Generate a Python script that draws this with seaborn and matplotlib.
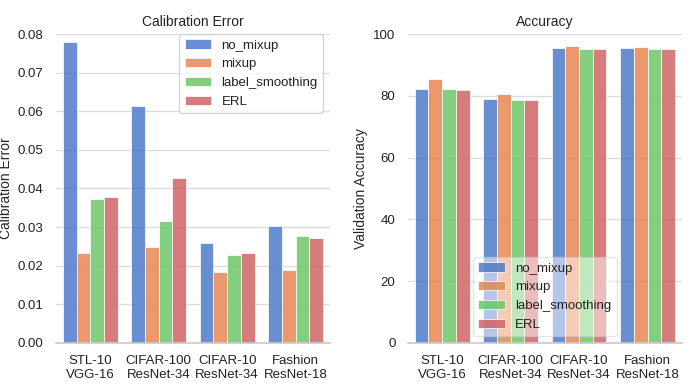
import pandas as pd
import matplotlib.pyplot as plt
import seaborn as sns

# data
datasets = ['STL-10\nVGG-16', 'CIFAR-100\nResNet-34', 'CIFAR-10\nResNet-34', 'Fashion\nResNet-18']
methods = ['no_mixup', 'mixup', 'label_smoothing', 'ERL']

calib_no_mixup = [0.0780, 0.0614, 0.0259, 0.0303]
calib_mixup = [0.0233, 0.0249, 0.0184, 0.0189]
calib_label_smoothing = [0.0372, 0.0316, 0.0228, 0.0278]
calib_erl = [0.0379, 0.0427, 0.0234, 0.0271]

acc_no_mixup = [82.2, 79.0, 95.6, 95.6]
acc_mixup = [85.5, 80.6, 96.0, 95.8]
acc_label_smoothing = [82.3, 78.6, 95.2, 95.2]
acc_erl = [81.9, 78.8, 95.2, 95.2]


def long_frame(series):
    rows = []
    for m, vals in zip(methods, series):
        for d, v in zip(datasets, vals):
            rows.append({'dataset': d, 'method': m, 'value': v})
    return pd.DataFrame(rows)


df_cal = long_frame([calib_no_mixup, calib_mixup, calib_label_smoothing, calib_erl])
df_acc = long_frame([acc_no_mixup, acc_mixup, acc_label_smoothing, acc_erl])

sns.set_theme(style='whitegrid', palette='muted')
plt.rcParams['font.family'] = ['Liberation Sans', 'DejaVu Sans']
plt.rcParams['text.color'] = '#222222'
plt.rcParams['xtick.color'] = '#222222'
plt.rcParams['ytick.color'] = '#222222'

fig, axes = plt.subplots(1, 2, figsize=(7, 3.87), dpi=100)
fig.subplots_adjust(left=0.08, right=0.974, bottom=0.114, top=0.912, wspace=0.285)

bar_kw = dict(x='dataset', y='value', hue='method', saturation=0.9,
              alpha=0.85, edgecolor='white', linewidth=0.6)

# --- left: calibration error ---
ax = axes[0]
sns.barplot(data=df_cal, ax=ax, **bar_kw)
ax.set_ylim(0, 0.08)
ax.set_yticks([0, 0.01, 0.02, 0.03, 0.04, 0.05, 0.06, 0.07, 0.08])
ax.set_yticklabels(['0.00', '0.01', '0.02', '0.03', '0.04', '0.05', '0.06', '0.07', '0.08'])
ax.set_title('Calibration Error', fontsize=10)
ax.set_ylabel('Calibration Error', fontsize=10, labelpad=3)
ax.set_xlabel('')
ax.legend(title=None, loc='upper right', bbox_to_anchor=(0.975, 1.0),
          fontsize=9.5, frameon=True, borderaxespad=0)

# --- right: accuracy ---
ax = axes[1]
sns.barplot(data=df_acc, ax=ax, **bar_kw)
ax.set_ylim(0, 100)
ax.set_yticks([0, 20, 40, 60, 80, 100])
ax.set_title('Accuracy', fontsize=10)
ax.set_ylabel('Validation Accuracy', fontsize=10, labelpad=4)
ax.set_xlabel('')
ax.legend(title=None, loc='lower center', fontsize=9.5, frameon=True,
          framealpha=0.5, borderaxespad=0.5)

for ax in axes:
    ax.grid(axis='x', visible=False)
    ax.grid(axis='y', color='#dcdcdc')
    ax.tick_params(axis='both', labelsize=9.5, pad=3)
    for s in ['left', 'top', 'right']:
        ax.spines[s].set_visible(False)
    ax.spines['bottom'].set_color('#cccccc')

plt.savefig('out.png', dpi=100)
